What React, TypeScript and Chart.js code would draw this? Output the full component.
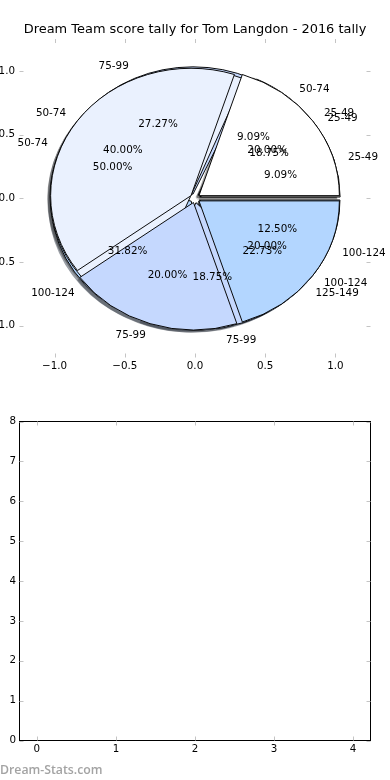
import React, { useEffect, useRef } from "react";
import { Chart, registerables } from "chart.js";

Chart.register(...registerables);

// ---------- data ----------
const titleText = "Dream Team score tally for Tom Langdon - 2016 tally";
const categories = ["25-49", "50-74", "75-99", "100-124", "125-149"];
// three overlapping pies, in drawing order (first drawn at the bottom)
const pieA = [2, 2, 6, 7, 5]; // 9.09 / 9.09 / 27.27 / 31.82 / 22.73 %
const pieC = [3, 8, 3, 2, 0]; // 18.75 / 50.00 / 18.75 / 12.50 %
const pieB = [1, 2, 1, 1, 0]; // 20.00 / 40.00 / 20.00 / 20.00 %
const sliceColors = ["#ffffff", "#eaf1fe", "#c5d8fe", "#b3d6ff", "#a5c8f4"];
const explode = 0.035;
const pieXTicks = [-1, -0.5, 0, 0.5, 1];
const pieYTicks = [-1, -0.5, 0, 0.5, 1];
const pieRange = [-1.25, 1.25];
const emptyXTicks = [0, 1, 2, 3, 4];
const emptyYTicks = [0, 1, 2, 3, 4, 5, 6, 7, 8];
const emptyXRange = [-0.22, 4.22];
const emptyYRange = [0, 8];
const watermark = "Dream-Stats.com";

// ---------- helpers ----------
const FONT = "'DejaVu Sans'";
function fmt(v: number, digits: number) {
  const s = Math.abs(v).toFixed(digits);
  return v < 0 ? "\u2212" + s : s;
}
function hexRgb(h: string) {
  const n = parseInt(h.replace("#", ""), 16);
  return [(n >> 16) & 255, (n >> 8) & 255, n & 255];
}

const tickMarksPlugin = {
  id: "tickMarks",
  afterDraw(chart: any, _args: any, opts: any) {
    const { ctx, chartArea: a } = chart;
    const xs = chart.scales.x;
    const ys = chart.scales.y;
    const L = opts.length || 4;
    ctx.save();
    if (opts.frame) {
      ctx.strokeStyle = "#000";
      ctx.lineWidth = 1;
      ctx.strokeRect(a.left, a.top, a.right - a.left, a.bottom - a.top);
    }
    ctx.strokeStyle = opts.color || "#bfbfbf";
    ctx.lineWidth = 1;
    ctx.beginPath();
    xs.ticks.forEach((t: any) => {
      const px = Math.round(xs.getPixelForValue(t.value)) + 0.5;
      ctx.moveTo(px, a.bottom);
      ctx.lineTo(px, a.bottom - L);
      ctx.moveTo(px, a.top);
      ctx.lineTo(px, a.top + L);
    });
    ys.ticks.forEach((t: any) => {
      const py = Math.round(ys.getPixelForValue(t.value)) + 0.5;
      ctx.moveTo(a.left, py);
      ctx.lineTo(a.left + L, py);
      ctx.moveTo(a.right, py);
      ctx.lineTo(a.right - L, py);
    });
    ctx.stroke();
    ctx.restore();
  },
};

function pieGeom(chart: any) {
  const xs = chart.scales.x;
  const ys = chart.scales.y;
  const cx = xs.getPixelForValue(0);
  const cy = ys.getPixelForValue(0);
  const rx = xs.getPixelForValue(1) - cx;
  const ry = cy - ys.getPixelForValue(1);
  return { xs, ys, cx, cy, rx, ry };
}

// overlapping, exploded, elliptical, counter-clockwise pies (matplotlib style)
const overlapPiePlugin = {
  id: "overlapPie",
  afterDatasetUpdate(chart: any, args: any) {
    const { cx, cy, rx } = pieGeom(chart);
    const ex = chart.data.datasets[args.index].explodeBy || 0;
    args.meta.data.forEach((arc: any) => {
      const mid = (arc.startAngle + arc.endAngle) / 2;
      arc.x = cx + ex * rx * Math.cos(mid);
      arc.y = cy + ex * rx * Math.sin(mid);
      arc.innerRadius = 0;
      arc.outerRadius = rx;
    });
  },
  beforeDatasetsDraw(chart: any) {
    const ctx = chart.ctx;
    const { cx, cy, rx, ry } = pieGeom(chart);
    ctx.save();
    ctx.translate(cx, cy);
    ctx.scale(1, -ry / rx);
    ctx.translate(-cx, -cy);
    // shadows of every wedge, below all wedges
    const metas = chart.getSortedVisibleDatasetMetas().slice().reverse();
    const sh = -0.02 * rx;
    metas.forEach((meta: any) => {
      meta.data.forEach((arc: any, i: number) => {
        if (!arc.circumference) return;
        const ds = chart.data.datasets[meta.index];
        const col = Array.isArray(ds.backgroundColor) ? ds.backgroundColor[i] : ds.backgroundColor;
        const [r, g, b] = hexRgb(col);
        ctx.beginPath();
        ctx.moveTo(arc.x + sh, arc.y + sh);
        ctx.arc(arc.x + sh, arc.y + sh, arc.outerRadius, arc.startAngle, arc.endAngle);
        ctx.closePath();
        ctx.fillStyle = `rgba(${Math.round(r * 0.3)},${Math.round(g * 0.3)},${Math.round(b * 0.3)},0.5)`;
        ctx.fill();
      });
    });
  },
  afterDatasetsDraw(chart: any) {
    const ctx = chart.ctx;
    ctx.restore();
    const { xs, ys } = pieGeom(chart);
    const metas = chart.getSortedVisibleDatasetMetas().slice().reverse();
    ctx.save();
    ctx.font = `10.4px ${FONT}`;
    ctx.fillStyle = "#000";
    ctx.textBaseline = "middle";
    metas.forEach((meta: any) => {
      const ds = chart.data.datasets[meta.index];
      const ex = ds.explodeBy || 0;
      const total = ds.data.reduce((s: number, v: number) => s + v, 0);
      meta.data.forEach((arc: any, i: number) => {
        const v = ds.data[i];
        if (!v) return;
        const mid = (arc.startAngle + arc.endAngle) / 2;
        const c = Math.cos(mid);
        const s = Math.sin(mid);
        const lx = (ex + 1.1) * c;
        const ly = (ex + 1.1) * s;
        ctx.textAlign = lx > 0 ? "left" : "right";
        ctx.fillText(chart.data.labels[i], xs.getPixelForValue(lx), ys.getPixelForValue(ly));
        const px = (ex + 0.6) * c;
        const py = (ex + 0.6) * s;
        ctx.textAlign = "center";
        ctx.fillText(((v / total) * 100).toFixed(2) + "%", xs.getPixelForValue(px), ys.getPixelForValue(py));
      });
    });
    ctx.restore();
  },
};

function axisOpts(ticksArr: number[], range: number[], digits: number, pos: string, size: number, pad: number) {
  const horizontal = pos === "bottom";
  return {
    type: "linear",
    position: pos,
    min: range[0],
    max: range[1],
    grid: { display: false, drawTicks: false },
    border: { display: false },
    afterBuildTicks: (scale: any) => {
      scale.ticks = ticksArr.map((v) => ({ value: v }));
    },
    afterFit: (scale: any) => {
      if (horizontal) scale.height = size;
      else scale.width = size;
    },
    ticks: {
      color: "#000",
      padding: pad,
      autoSkip: false,
      maxRotation: 0,
      font: { family: FONT, size: 10.3 },
      callback: (v: number) => fmt(v, digits),
    },
  };
}

export default function App() {
  const pieRef = useRef<HTMLCanvasElement>(null);
  const emptyRef = useRef<HTMLCanvasElement>(null);

  useEffect(() => {
    const pieChart = new Chart(pieRef.current as HTMLCanvasElement, {
      type: "pie",
      data: {
        labels: categories,
        datasets: [
          { label: "A", data: pieA, order: 2, explodeBy: explode },
          { label: "C", data: pieC, order: 1, explodeBy: explode },
          { label: "B", data: pieB, order: 0, explodeBy: explode },
        ].map((d) => ({
          ...d,
          backgroundColor: sliceColors,
          borderColor: "#000",
          borderWidth: 1,
          clip: false,
        })) as any,
      },
      options: {
        responsive: false,
        animation: false,
        events: [],
        rotation: 90,
        layout: { padding: { top: 22.3, right: 19.5, bottom: 0, left: 0 } },
        scales: {
          x: axisOpts(pieXTicks, pieRange, 1, "bottom", 32.5, 2.6),
          y: axisOpts(pieYTicks, pieRange, 1, "left", 49.5, 4.5),
        } as any,
        plugins: {
          legend: { display: false },
          tooltip: { enabled: false },
          title: {
            display: true,
            text: titleText,
            fullSize: false,
            color: "#000",
            font: { family: FONT, size: 12.95, weight: "normal" },
            padding: { top: 0, bottom: 1.2 },
          },
          tickMarks: { frame: false, color: "#c4c4c4", length: 4 },
        } as any,
      },
      plugins: [overlapPiePlugin, tickMarksPlugin] as any,
    });

    const emptyChart = new Chart(emptyRef.current as HTMLCanvasElement, {
      type: "scatter",
      data: { datasets: [] },
      options: {
        responsive: false,
        animation: false,
        events: [],
        layout: { padding: { top: 31.5, right: 19.5, bottom: 0, left: 0 } },
        scales: {
          x: axisOpts(emptyXTicks, emptyXRange, 0, "bottom", 39.5, 2.6),
          y: axisOpts(emptyYTicks, emptyYRange, 0, "left", 19.5, 3.5),
        } as any,
        plugins: {
          legend: { display: false },
          tooltip: { enabled: false },
          tickMarks: { frame: true, color: "#c4c4c4", length: 4 },
        } as any,
      },
      plugins: [tickMarksPlugin] as any,
    });

    return () => {
      pieChart.destroy();
      emptyChart.destroy();
    };
  }, []);

  return (
    <div
      style={{
        position: "absolute",
        left: 0,
        top: 0,
        width: 390,
        height: 780,
        overflow: "hidden",
        background: "#fff",
      }}
    >
      <canvas
        ref={pieRef}
        width={420}
        height={390}
        style={{ position: "absolute", left: -30, top: 0, width: 420, height: 390 }}
      />
      <canvas
        ref={emptyRef}
        width={390}
        height={390}
        style={{ position: "absolute", left: 0, top: 390, width: 390, height: 390 }}
      />
      <div
        style={{
          position: "absolute",
          left: 0,
          top: 761,
          fontFamily: "'Open Sans', sans-serif",
          fontWeight: 600,
          fontSize: 12.3,
          lineHeight: "18px",
          color: "#a3a3a3",
          whiteSpace: "nowrap",
        }}
      >
        {watermark}
      </div>
    </div>
  );
}
